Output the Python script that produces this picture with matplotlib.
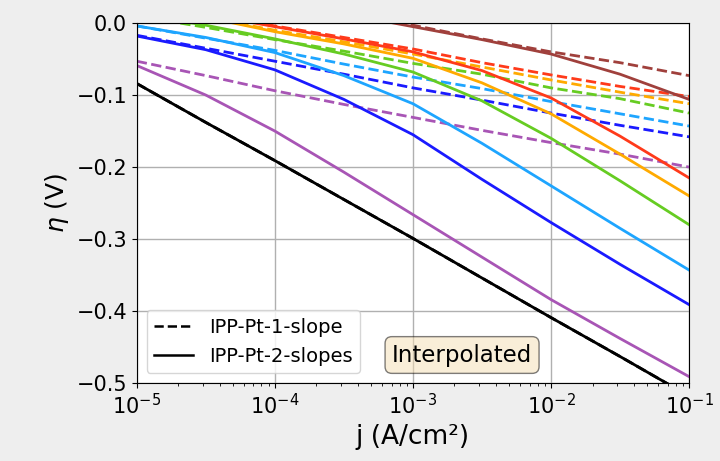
"""Overpotential vs current density: 1-slope vs 2-slope IPP-Pt fits."""
import matplotlib
matplotlib.use("Agg")
import matplotlib.pyplot as plt

# current density (A/cm2), half-decade steps
j = [1e-5, 3.16e-5, 1e-4, 3.16e-4, 1e-3, 3.16e-3, 1e-2, 3.16e-2, 1e-1]

colors = ["black", "#a855b5", "#1a1aff", "#1ea5ff", "#66cc22", "#ffaa00", "#ff3a1a", "#a0403c"]

# IPP-Pt-2-slopes (solid)
eta_2s_black  = [-0.084, -0.138, -0.191, -0.245, -0.299, -0.354, -0.409, -0.463, -0.518]
eta_2s_purple = [-0.059, -0.100, -0.150, -0.207, -0.266, -0.325, -0.384, -0.438, -0.491]
eta_2s_blue   = [-0.018, -0.037, -0.065, -0.106, -0.155, -0.217, -0.277, -0.335, -0.391]
eta_2s_sky    = [-0.004, -0.020, -0.041, -0.073, -0.112, -0.167, -0.226, -0.285, -0.343]
eta_2s_green  = [0.012, -0.003, -0.022, -0.043, -0.068, -0.108, -0.160, -0.219, -0.280]
eta_2s_orange = [0.025, 0.008, -0.012, -0.029, -0.049, -0.083, -0.126, -0.182, -0.240]
eta_2s_red    = [0.030, 0.012, -0.005, -0.022, -0.040, -0.066, -0.104, -0.157, -0.215]
eta_2s_brown  = [0.075, 0.055, 0.035, 0.013, -0.005, -0.023, -0.043, -0.071, -0.106]

# IPP-Pt-1-slope (dashed)
eta_1s_black  = eta_2s_black
eta_1s_purple = [-0.053, -0.073, -0.094, -0.113, -0.131, -0.149, -0.166, -0.182, -0.200]
eta_1s_blue   = [-0.017, -0.035, -0.053, -0.071, -0.090, -0.107, -0.125, -0.142, -0.158]
eta_1s_sky    = [-0.004, -0.021, -0.038, -0.057, -0.075, -0.091, -0.109, -0.126, -0.143]
eta_1s_green  = [0.010, -0.006, -0.023, -0.039, -0.056, -0.071, -0.090, -0.105, -0.125]
eta_1s_orange = [0.025, 0.008, -0.010, -0.026, -0.043, -0.061, -0.079, -0.096, -0.112]
eta_1s_red    = [0.032, 0.014, -0.004, -0.020, -0.036, -0.055, -0.072, -0.088, -0.102]
eta_1s_brown  = [0.075, 0.055, 0.035, 0.016, -0.003, -0.022, -0.040, -0.055, -0.073]

two_slopes = [eta_2s_black, eta_2s_purple, eta_2s_blue, eta_2s_sky,
              eta_2s_green, eta_2s_orange, eta_2s_red, eta_2s_brown]
one_slope = [eta_1s_black, eta_1s_purple, eta_1s_blue, eta_1s_sky,
             eta_1s_green, eta_1s_orange, eta_1s_red, eta_1s_brown]

fig = plt.figure(figsize=(7.2, 4.61), dpi=100, facecolor="#eeeeee")
ax = fig.add_axes([0.190, 0.169, 0.767, 0.781])

for c, e1, e2 in zip(colors, one_slope, two_slopes):
    ax.plot(j, e1, "--", color=c, lw=2)
    ax.plot(j, e2, "-", color=c, lw=2)

ax.set_xscale("log")
ax.set_xlim(1e-5, 1e-1)
ax.set_ylim(-0.5, 0.0)
ax.set_yticks([0.0, -0.1, -0.2, -0.3, -0.4, -0.5])
ax.tick_params(labelsize=15)
ax.grid(True, which="major", color="#b0b0b0", lw=1)
ax.set_xlabel("j (A/cm²)", fontsize=19)
ax.set_ylabel(r"$\eta$ (V)", fontsize=18)

h1, = ax.plot([], [], "--", color="black", lw=1.8, label="IPP-Pt-1-slope")
h2, = ax.plot([], [], "-", color="black", lw=1.8, label="IPP-Pt-2-slopes")
ax.legend(handles=[h1, h2], loc="lower left", fontsize=14)

ax.text(0.462, 0.078, "Interpolated", transform=ax.transAxes, fontsize=16.5,
        ha="left", va="center",
        bbox=dict(boxstyle="round", facecolor="wheat", alpha=0.5))

fig.savefig("out.png", dpi=100, facecolor=fig.get_facecolor())
